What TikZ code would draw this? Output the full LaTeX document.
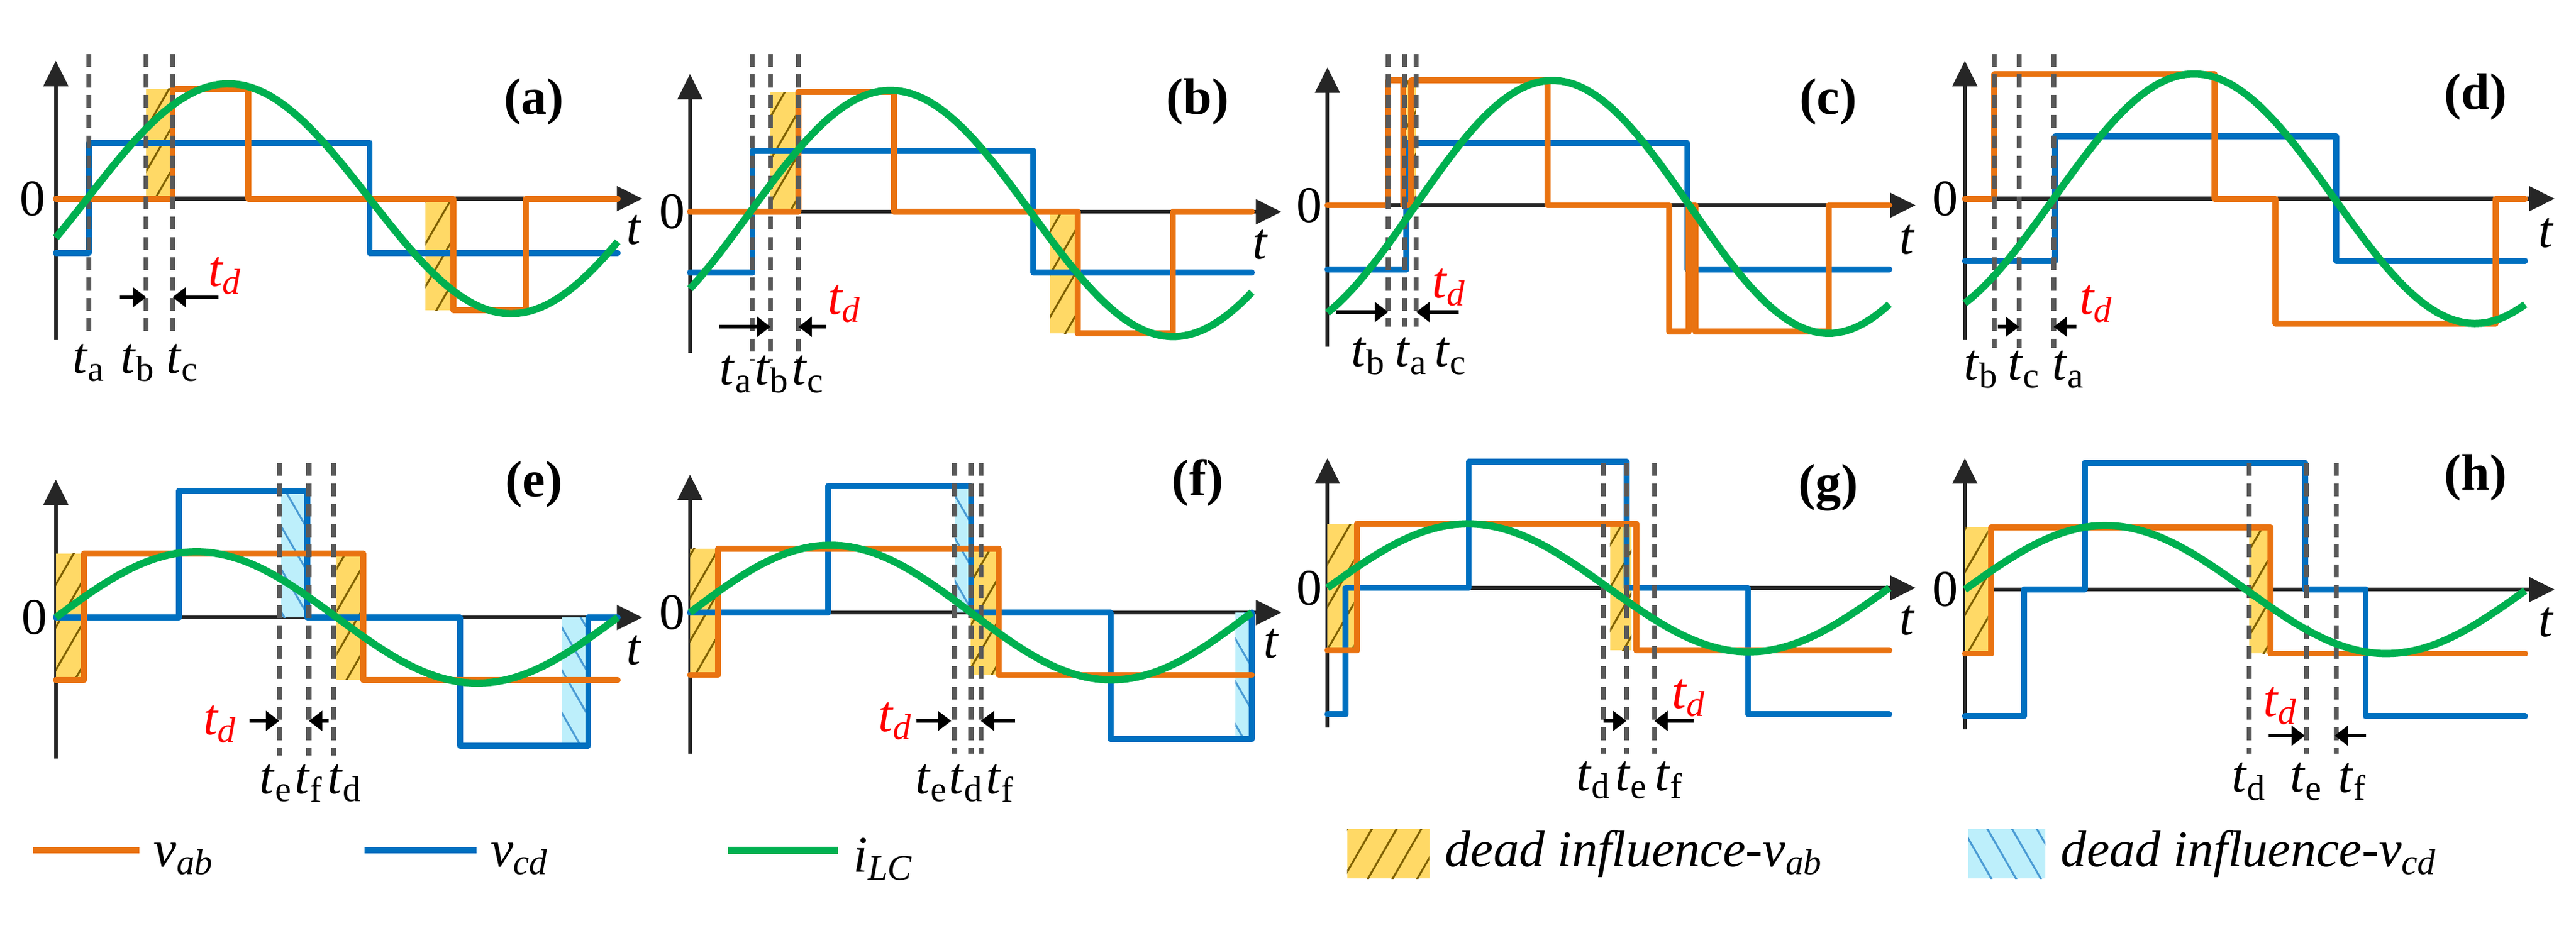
\documentclass[tikz,border=0pt]{standalone}
\usepackage{fontspec}
\setmainfont{Liberation Serif}
\usetikzlibrary{arrows.meta,patterns.meta}
\definecolor{vabcol}{HTML}{E97311}
\definecolor{vcdcol}{HTML}{0070C0}
\definecolor{ilccol}{HTML}{00B050}
\definecolor{yelcol}{HTML}{FFD966}
\definecolor{cyacol}{HTML}{BDEFFB}
\definecolor{hatchab}{HTML}{7F6000}
\definecolor{hatchcd}{HTML}{4A9BD4}
\newcommand{\tsub}[1]{\textit{t}\textsubscript{#1}}
\newcommand{\tdead}{\textcolor{red}{\textit{t\textsubscript{d}}}}
\tikzset{
  lbl/.style={font=\fontsize{24}{26}\selectfont, inner sep=1pt},
  axisline/.style={line width=1.8pt, draw=black!85, -{Triangle[length=0.42cm,width=0.4cm]}},
  zeroline/.style={line width=1.8pt, draw=black!85},
  wab/.style={line width=2.8pt, draw=vabcol, line join=round, line cap=round},
  wcd/.style={line width=2.8pt, draw=vcdcol, line join=round, line cap=round},
  ilc/.style={line width=3.4pt, draw=ilccol},
  dline/.style={line width=2.3pt, draw=black!65, dash pattern=on 6pt off 3.5pt},
  tdarrow/.style={line width=1.6pt, -{Triangle[length=0.22cm,width=0.32cm]}},
  deadab/.style={fill=yelcol, postaction={pattern={Lines[angle=60,distance=10pt,line width=0.9pt]}, pattern color=hatchab}},
  deadcd/.style={fill=cyacol, postaction={pattern={Lines[angle=-60,distance=10pt,line width=0.9pt]}, pattern color=hatchcd}}
}
\begin{document}
\begin{tikzpicture}[x=0.027cm, y=-0.027cm]
\useasboundingbox (0,0) rectangle (1568,571);

% (a)
\draw[zeroline] (34,121) -- (380,121);
\draw[axisline] (34,207) -- (34,37);
\draw[axisline] (370,121) -- (391,121);
\fill[deadab] (89,54) rectangle (105,121);
\fill[deadab] (259,121) rectangle (276,189);
\draw[wcd] (34,154) -- (54,154) -- (54,87) -- (225,87) -- (225,154) -- (376,154);
\draw[wab] (34,121) -- (105,121) -- (105,54) -- (151,54) -- (151,121) -- (276,121) -- (276,189) -- (320,189) -- (320,121) -- (376,121);
\foreach \x in {54,89,105} \draw[dline] (\x,33) -- (\x,203);
\draw[ilc] plot[domain=34:376, samples=90] (\x, {121-70*sin((\x-53)/172*180)});
\draw[tdarrow] (73,181) -- (89,181);
\draw[tdarrow] (133,181) -- (105,181);
\node[lbl] (tda) at (137,168) {\tdead};
\node[lbl] (zeroa) at (20,121) {0};
\node[lbl] (ta) at (386,140) {\textit{t}};
\node[lbl] (capa) at (325,62) {\textbf{(a)}};
\node[lbl] (a1) at (54,221) {\tsub{a}};
\node[lbl] (a2) at (84,221) {\tsub{b}};
\node[lbl] (a3) at (111,221) {\tsub{c}};

% (b)
\draw[zeroline] (420,129) -- (770,129);
\draw[axisline] (420,215) -- (420,45);
\draw[axisline] (760,129) -- (780,129);
\fill[deadab] (469,56) rectangle (486,129);
\fill[deadab] (639,129) rectangle (656,203);
\draw[wcd] (420,166) -- (458,166) -- (458,92) -- (629,92) -- (629,166) -- (762,166);
\draw[wab] (420,129) -- (486,129) -- (486,56) -- (544,56) -- (544,129) -- (656,129) -- (656,203) -- (714,203) -- (714,129) -- (762,129);
\foreach \x in {458,469,486} \draw[dline] (\x,33) -- (\x,220);
\draw[ilc] plot[domain=420:762, samples=90] (\x, {130-75*sin((\x-456)/172*180)});
\draw[tdarrow] (438,199) -- (469,199);
\draw[tdarrow] (503,199) -- (486,199);
\node[lbl] (tdb) at (514,185) {\tdead};
\node[lbl] (zerob) at (409,129) {0};
\node[lbl] (tb) at (767,149) {\textit{t}};
\node[lbl] (capb) at (729,62) {\textbf{(b)}};
\node[lbl] (b1) at (448,228) {\tsub{a}};
\node[lbl] (b2) at (470,228) {\tsub{b}};
\node[lbl] (b3) at (492,228) {\tsub{c}};

% (c)
\draw[zeroline] (808,125) -- (1155,125);
\draw[axisline] (808,211) -- (808,41);
\draw[axisline] (1145,125) -- (1166,125);
\fill[deadab] (856,49) rectangle (862,125);
\fill[deadab] (1028,125) rectangle (1032,202);
\draw[wcd] (808,164) -- (856,164) -- (856,87) -- (1027,87) -- (1027,164) -- (1150,164);
\draw[wab] (808,125) -- (845,125) -- (845,49) -- (854,49) -- (854,125) -- (859,125) -- (859,49) -- (942,49) -- (942,125) -- (1016,125) -- (1016,202) -- (1028,202) -- (1028,125) -- (1032,125) -- (1032,202) -- (1113,202) -- (1113,125) -- (1150,125);
\foreach \x in {845,855,862} \draw[dline] (\x,33) -- (\x,199);
\draw[ilc] plot[domain=808:1150, samples=90] (\x, {126-77*sin((\x-861)/168*180)});
\draw[tdarrow] (813,190) -- (845,190);
\draw[tdarrow] (888,190) -- (862,190);
\node[lbl] (tdc) at (882,175) {\tdead};
\node[lbl] (zeroc) at (797,125) {0};
\node[lbl] (tc) at (1161,146) {\textit{t}};
\node[lbl] (capc) at (1113,62) {\textbf{(c)}};
\node[lbl] (c1) at (833,217) {\tsub{b}};
\node[lbl] (c2) at (859,217) {\tsub{a}};
\node[lbl] (c3) at (883,217) {\tsub{c}};

% (d)
\draw[zeroline] (1196,121) -- (1545,121);
\draw[axisline] (1196,207) -- (1196,37);
\draw[axisline] (1535,121) -- (1555,121);
\draw[wcd] (1196,159) -- (1251,159) -- (1251,83) -- (1422,83) -- (1422,159) -- (1537,159);
\draw[wab] (1196,121) -- (1214,121) -- (1214,45) -- (1348,45) -- (1348,121) -- (1385,121) -- (1385,197) -- (1519,197) -- (1519,121) -- (1537,121);
\foreach \x in {1214,1229,1250} \draw[dline] (\x,33) -- (\x,212);
\draw[ilc] plot[domain=1196:1537, samples=90] (\x, {121-76*sin((\x-1250)/171*180)});
\draw[tdarrow] (1216,199) -- (1229,199);
\draw[tdarrow] (1264,199) -- (1250,199);
\node[lbl] (tdd) at (1276,185) {\tdead};
\node[lbl] (zerod) at (1184,121) {0};
\node[lbl] (td) at (1550,142) {\textit{t}};
\node[lbl] (capd) at (1507,59) {\textbf{(d)}};
\node[lbl] (d1) at (1206,225) {\tsub{b}};
\node[lbl] (d2) at (1232,225) {\tsub{c}};
\node[lbl] (d3) at (1259,225) {\tsub{a}};

% (e)
\draw[zeroline] (34,376) -- (380,376);
\draw[axisline] (34,462) -- (34,292);
\draw[axisline] (370,376) -- (391,376);
\fill[deadab] (34,337) rectangle (51,414);
\fill[deadab] (205,337) rectangle (220,414);
\fill[deadcd] (171,299) rectangle (187,376);
\fill[deadcd] (342,376) rectangle (357,454);
\draw[wcd] (34,376) -- (109,376) -- (109,299) -- (187,299) -- (187,376) -- (280,376) -- (280,454) -- (358,454) -- (358,376) -- (376,376);
\draw[wab] (34,414) -- (51,414) -- (51,337) -- (221,337) -- (221,414) -- (376,414);
\foreach \x in {170,188,203} \draw[dline] (\x,282) -- (\x,460);
\draw[ilc] plot[domain=34:376, samples=90] (\x, {376-40*sin((\x-34)/171*180)});
\draw[tdarrow] (152,439) -- (170,439);
\draw[tdarrow] (200,439) -- (188,439);
\node[lbl] (tde) at (134,441) {\tdead};
\node[lbl] (zeroe) at (21,376) {0};
\node[lbl] (te) at (386,396) {\textit{t}};
\node[lbl] (cape) at (325,295) {\textbf{(e)}};
\node[lbl] (e1) at (168,477) {\tsub{e}};
\node[lbl] (e2) at (188,477) {\tsub{f}};
\node[lbl] (e3) at (210,477) {\tsub{d}};

% (f)
\draw[zeroline] (420,373) -- (770,373);
\draw[axisline] (420,459) -- (420,289);
\draw[axisline] (760,373) -- (780,373);
\fill[deadab] (420,334) rectangle (437,411);
\fill[deadab] (591,334) rectangle (606,411);
\fill[deadcd] (581,296) rectangle (591,373);
\fill[deadcd] (752,373) rectangle (762,450);
\draw[wcd] (420,373) -- (504,373) -- (504,296) -- (591,296) -- (591,373) -- (676,373) -- (676,450) -- (762,450) -- (762,373);
\draw[wab] (420,411) -- (437,411) -- (437,334) -- (608,334) -- (608,411) -- (762,411);
\foreach \x in {581,591,597} \draw[dline] (\x,282) -- (\x,459);
\draw[ilc] plot[domain=420:762, samples=90] (\x, {373-41*sin((\x-420)/171*180)});
\draw[tdarrow] (558,439) -- (579,439);
\draw[tdarrow] (618,439) -- (597,439);
\node[lbl] (tdf) at (545,439) {\tdead};
\node[lbl] (zerof) at (409,373) {0};
\node[lbl] (tf) at (774,392) {\textit{t}};
\node[lbl] (capf) at (729,294) {\textbf{(f)}};
\node[lbl] (f1) at (567,477) {\tsub{e}};
\node[lbl] (f2) at (588,477) {\tsub{d}};
\node[lbl] (f3) at (609,477) {\tsub{f}};

% (g)
\draw[zeroline] (808,358) -- (1155,358);
\draw[axisline] (808,443) -- (808,279);
\draw[axisline] (1145,358) -- (1166,358);
\fill[deadab] (808,319) rectangle (824,396);
\fill[deadab] (980,319) rectangle (993,396);
\draw[wcd] (808,435) -- (819,435) -- (819,358) -- (894,358) -- (894,281) -- (990,281) -- (990,358) -- (1064,358) -- (1064,435) -- (1150,435);
\draw[wab] (808,396) -- (826,396) -- (826,319) -- (996,319) -- (996,396) -- (1150,396);
\foreach \x in {976,990,1007} \draw[dline] (\x,282) -- (\x,459);
\draw[ilc] plot[domain=808:1150, samples=90] (\x, {358-39*sin((\x-808)/171*180)});
\draw[tdarrow] (976,439) -- (990,439);
\draw[tdarrow] (1031,439) -- (1007,439);
\node[lbl] (tdg) at (1028,425) {\tdead};
\node[lbl] (zerog) at (797,358) {0};
\node[lbl] (tg) at (1161,378) {\textit{t}};
\node[lbl] (capg) at (1113,297) {\textbf{(g)}};
\node[lbl] (g1) at (970,475) {\tsub{d}};
\node[lbl] (g2) at (993,475) {\tsub{e}};
\node[lbl] (g3) at (1016,475) {\tsub{f}};

% (h)
\draw[zeroline] (1196,359) -- (1545,359);
\draw[axisline] (1196,444) -- (1196,279);
\draw[axisline] (1535,359) -- (1555,359);
\fill[deadab] (1196,321) rectangle (1210,398);
\fill[deadab] (1369,321) rectangle (1381,398);
\draw[wcd] (1196,436) -- (1232,436) -- (1232,359) -- (1269,359) -- (1269,282) -- (1403,282) -- (1403,359) -- (1440,359) -- (1440,436) -- (1537,436);
\draw[wab] (1196,398) -- (1212,398) -- (1212,321) -- (1382,321) -- (1382,398) -- (1537,398);
\foreach \x in {1369,1404,1422} \draw[dline] (\x,282) -- (\x,459);
\draw[ilc] plot[domain=1196:1537, samples=90] (\x, {359-39*sin((\x-1196)/171*180)});
\draw[tdarrow] (1381,448) -- (1403,448);
\draw[tdarrow] (1440,448) -- (1421,448);
\node[lbl] (tdh) at (1388,430) {\tdead};
\node[lbl] (zeroh) at (1184,359) {0};
\node[lbl] (th) at (1550,379) {\textit{t}};
\node[lbl] (caph) at (1507,291) {\textbf{(h)}};
\node[lbl] (h1) at (1369,476) {\tsub{d}};
\node[lbl] (h2) at (1404,476) {\tsub{e}};
\node[lbl] (h3) at (1432,476) {\tsub{f}};

% legend
\draw[wab, line cap=butt] (20,518) -- (85,518);
\node[lbl, anchor=west] (legab) at (92,523) {\textit{v\textsubscript{ab}}};
\draw[wcd, line cap=butt] (222,518) -- (290,518);
\node[lbl, anchor=west] (legcd) at (297,523) {\textit{v\textsubscript{cd}}};
\draw[ilc] (443,518) -- (510,518);
\node[lbl, anchor=west] (leglc) at (518,523) {\textit{i\textsubscript{LC}}};
\fill[deadab] (820,505) rectangle (870,535);
\node[lbl, anchor=west] (legdab) at (878,520) {\textit{dead influence-v\textsubscript{ab}}};
\fill[deadcd] (1198,505) rectangle (1245,535);
\node[lbl, anchor=west] (legdcd) at (1253,520) {\textit{dead influence-v\textsubscript{cd}}};
\end{tikzpicture}
\end{document}
